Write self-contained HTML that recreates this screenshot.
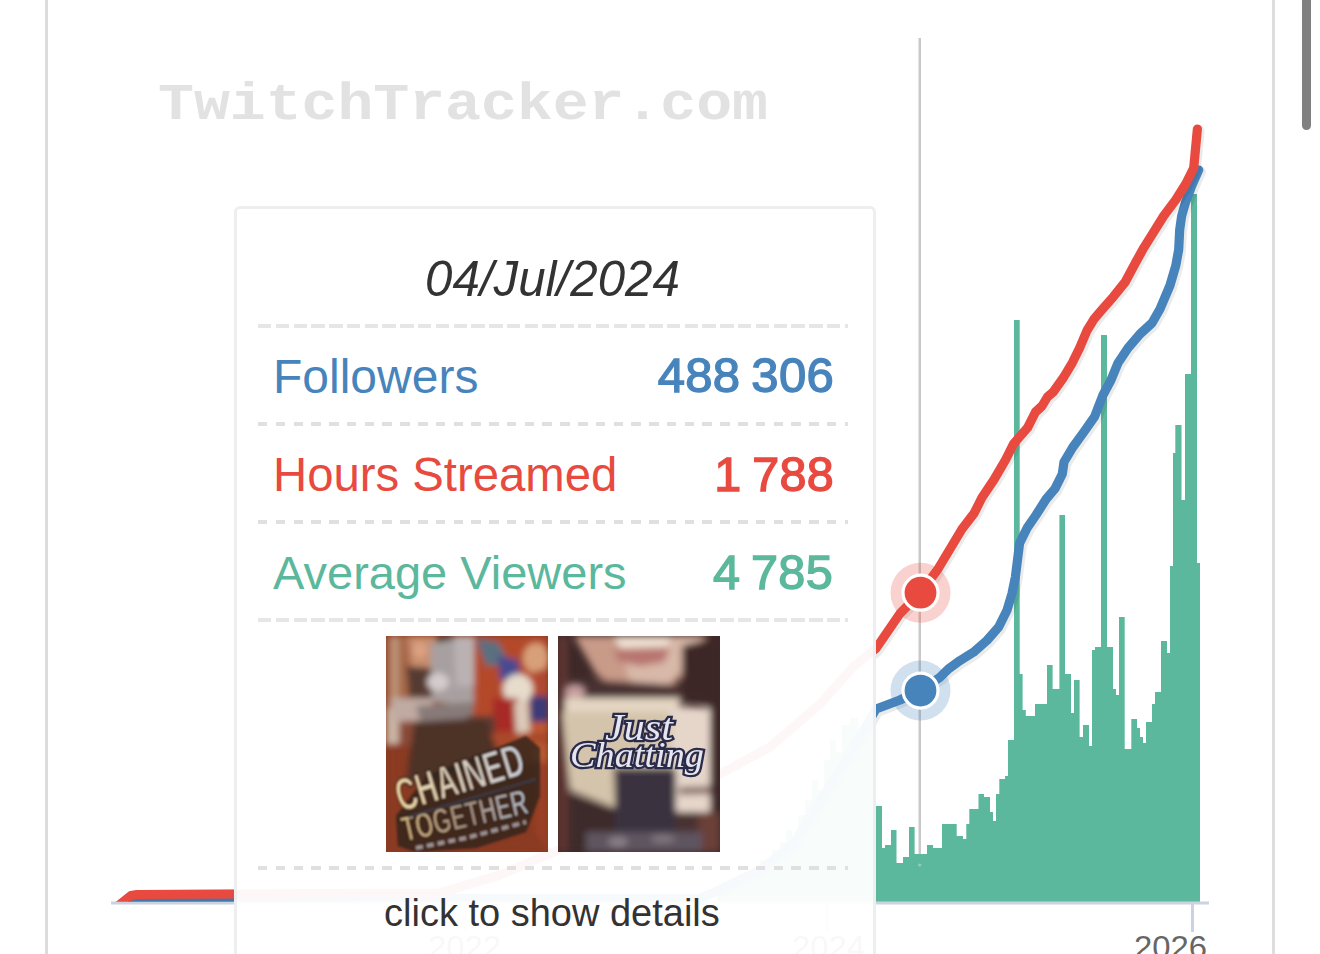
<!DOCTYPE html>
<html><head><meta charset="utf-8">
<style>
html,body{margin:0;padding:0;width:1320px;height:954px;overflow:hidden;background:#fff;}
body{position:relative;font-family:"Liberation Sans",sans-serif;}
.abs{position:absolute;}
#chart{position:absolute;left:0;top:0;}
#tip{position:absolute;left:234px;top:206px;width:636px;height:800px;border:3px solid #eceef0;border-radius:6px;background:rgba(255,255,255,0.955);}
.dash{position:absolute;left:258px;width:590px;height:3.5px;background:repeating-linear-gradient(90deg,#e0e0e0 0 9.5px,transparent 9.5px 17.78px);}
.dl{background:repeating-linear-gradient(90deg,#e6e6e6 0 13.4px,transparent 13.4px 17.78px);}
.t{position:absolute;white-space:nowrap;line-height:1;}
.img{position:absolute;top:636px;width:162px;height:216px;overflow:hidden;}
</style></head><body>
<svg id="chart" width="1320" height="954" viewBox="0 0 1320 954">
  <rect x="45" y="0" width="3" height="954" fill="#dcdcdc"/>
  <rect x="1272" y="0" width="3" height="954" fill="#dedede"/>
  <text transform="translate(158,119) scale(1,0.86)" x="0" y="0" font-family="Liberation Mono" font-weight="bold" font-size="60" fill="#e2e2e2" textLength="610" lengthAdjust="spacingAndGlyphs">TwitchTracker.com</text>
  <rect x="918.5" y="38" width="2.5" height="864" fill="#c9c9c9"/>
  <path d="M717,902 L717,891 L722,891 L722,886 L730,886 L730,880 L738,880 L738,884 L745,884 L745,872 L752,872 L752,868 L760,868 L760,860 L766,860 L766,864 L772,864 L772,850 L780,850 L780,842 L786,842 L786,830 L792,830 L792,838 L798,838 L798,815 L805,815 L805,800 L812,800 L812,780 L818,780 L818,790 L824,790 L824,760 L830,760 L830,740 L836,740 L836,752 L842,752 L842,725 L850,725 L850,718 L858,718 L858,730 L866,730 L866,715 L876,715 L876,902 Z" fill="#5bb89c"/>
  <path d="M876,902 L876,806 L882,806 L882,848 L885,848 L885,845 L891,845 L891,830 L896.5,830 L896.5,863 L903,863 L903,857 L909,857 L909,827 L914.6,827 L914.6,854 L927,854 L927,845 L933,845 L933,848 L942,848 L942,824 L956.7,824 L956.7,836 L963,836 L963,839 L966.3,839 L966.3,824 L969.3,824 L969.3,809 L978.5,809 L978.5,794 L984,794 L984,797 L990,797 L990,812 L993,812 L993,821 L996,821 L996,794 L999.3,794 L999.3,779 L1005,779 L1005,776 L1008,776 L1008,740 L1014,740 L1014,320 L1019.7,320 L1019.7,674 L1022.6,674 L1022.6,710 L1025.8,710 L1025.8,716 L1035,716 L1035,704 L1047,704 L1047,665 L1052.6,665 L1052.6,689 L1059.4,689 L1059.4,515 L1065,515 L1065,674 L1071,674 L1071,713 L1074,713 L1074,680 L1079.6,680 L1079.6,737 L1083,737 L1083,725 L1089,725 L1089,746 L1092,746 L1092,650 L1095,650 L1095,647 L1101,647 L1101,335 L1107,335 L1107,647 L1113,647 L1113,689 L1116,689 L1116,695 L1119,695 L1119,617 L1124.7,617 L1124.7,749 L1131.3,749 L1131.3,719 L1137,719 L1137,728 L1140,728 L1140,737 L1143,737 L1143,743 L1146,743 L1146,722 L1152,722 L1152,704 L1155,704 L1155,692 L1161,692 L1161,641 L1167,641 L1167,653 L1170,653 L1170,566 L1173,566 L1173,453 L1175.3,453 L1175.3,425 L1181.5,425 L1181.5,500 L1185,500 L1185,374 L1191,374 L1191,194 L1197,194 L1197,563 L1200,563 L1200,902 Z" fill="#5bb89c"/>
  <rect x="111" y="901.5" width="1098" height="3" fill="#ccd3e0"/>
  <rect x="1191" y="904" width="3" height="28" fill="#ccd3e0"/>
  <rect x="825.5" y="904" width="3" height="28" fill="#ccd3e0"/>
  <rect x="464" y="904" width="3" height="28" fill="#ccd3e0"/>
  <text x="1134" y="958" font-family="Liberation Sans" font-size="32" fill="#666" textLength="73" lengthAdjust="spacingAndGlyphs">2026</text>
  <text x="792" y="958" font-family="Liberation Sans" font-size="32" fill="#666" textLength="73" lengthAdjust="spacingAndGlyphs">2024</text>
  <text x="428" y="958" font-family="Liberation Sans" font-size="32" fill="#666" textLength="73" lengthAdjust="spacingAndGlyphs">2022</text>
  <defs><clipPath id="pc"><rect x="0" y="0" width="1320" height="901.7"/></clipPath></defs>
  <g fill="none" stroke-linecap="round" stroke-linejoin="round" clip-path="url(#pc)">
    <path d="M130,906 L140,899 L700,898 L717,891 L760,870 L794,843 L838,773 L860,737 L876,709 L900,700 L920.5,690 L940,677.3 L948.4,669 L960,660.6 L973.5,652.2 L987,640.4 L998.7,627 L1007,610.3 L1012,593.5 L1015.4,576.8 L1017.5,560 L1019.6,543.2 L1027.5,527.3 L1036,515 L1046.2,499 L1055,488.6 L1062.3,474 L1064,462 L1072.6,447.5 L1084.3,431.4 L1094.6,416.7 L1103,395 L1111,380 L1118,363 L1128,348 L1140,334 L1152,323 L1160,309 L1170,285.4 L1175.8,265.5 L1178.7,249.6 L1179.7,229.6 L1181.7,215.7 L1185.7,201.8 L1191.7,185.8 L1198.7,170" stroke="#000" stroke-opacity="0.08" stroke-width="11.5" transform="translate(1.5,2)"/>
    <path d="M130,906 L140,899 L700,898 L717,891 L760,870 L794,843 L838,773 L860,737 L876,709 L900,700 L920.5,690 L940,677.3 L948.4,669 L960,660.6 L973.5,652.2 L987,640.4 L998.7,627 L1007,610.3 L1012,593.5 L1015.4,576.8 L1017.5,560 L1019.6,543.2 L1027.5,527.3 L1036,515 L1046.2,499 L1055,488.6 L1062.3,474 L1064,462 L1072.6,447.5 L1084.3,431.4 L1094.6,416.7 L1103,395 L1111,380 L1118,363 L1128,348 L1140,334 L1152,323 L1160,309 L1170,285.4 L1175.8,265.5 L1178.7,249.6 L1179.7,229.6 L1181.7,215.7 L1185.7,201.8 L1191.7,185.8 L1198.7,170" stroke="#4884bc" stroke-width="9.2"/>
    <path d="M118,906 L131,895.5 L137,894.5 L440,893 L500,875 L549,854 L600,833 L650,810 L720,774 L770,747 L820,704 L854,666 L876,648.5 L900,613.5 L920.5,592.7 L938,569 L950,549 L962,529 L974,513.4 L982,497.5 L994,479.6 L1005.6,459.7 L1013.6,443.7 L1027.5,427.8 L1035.5,412 L1042,406 L1047.4,397 L1053.2,392 L1063.5,377.5 L1072.3,362.8 L1079.6,348 L1087,330.5 L1094.3,318.7 L1101.7,310 L1113.4,296.7 L1125.2,282 L1135.9,262 L1143.9,247.6 L1153.9,231.6 L1163.8,215.7 L1175.8,199.8 L1185.7,184 L1193.7,168 L1197.4,129" stroke="#000" stroke-opacity="0.08" stroke-width="11.5" transform="translate(1.5,2)"/>
    <path d="M118,906 L131,895.5 L137,894.5 L440,893 L500,875 L549,854 L600,833 L650,810 L720,774 L770,747 L820,704 L854,666 L876,648.5 L900,613.5 L920.5,592.7 L938,569 L950,549 L962,529 L974,513.4 L982,497.5 L994,479.6 L1005.6,459.7 L1013.6,443.7 L1027.5,427.8 L1035.5,412 L1042,406 L1047.4,397 L1053.2,392 L1063.5,377.5 L1072.3,362.8 L1079.6,348 L1087,330.5 L1094.3,318.7 L1101.7,310 L1113.4,296.7 L1125.2,282 L1135.9,262 L1143.9,247.6 L1153.9,231.6 L1163.8,215.7 L1175.8,199.8 L1185.7,184 L1193.7,168 L1197.4,129" stroke="#e84a40" stroke-width="9.2"/>
  </g>
  <circle cx="920.5" cy="592.7" r="30" fill="#e84a40" fill-opacity="0.25"/>
  <circle cx="920.5" cy="592.7" r="17.5" fill="#e84a40" stroke="#fff" stroke-width="3.2"/>
  <circle cx="920.5" cy="690.6" r="30" fill="#4884bc" fill-opacity="0.25"/>
  <circle cx="920.5" cy="690.6" r="17.5" fill="#4884bc" stroke="#fff" stroke-width="3.2"/>
  <circle cx="919.7" cy="865" r="1.6" fill="#8fd0bc"/>
  <rect x="1302" y="-10" width="9" height="140" rx="4.5" fill="#808080"/>
</svg>
<div id="tip"></div>
<div class="t" style="left:425px;top:254px;font-size:49.3px;font-style:italic;color:#333;">04/Jul/2024</div>
<div class="dash dl" style="top:324px"></div>
<div class="t" style="left:273px;top:353px;font-size:48px;color:#4884bc;">Followers</div>
<div class="t" style="right:486px;top:351px;font-size:49px;color:#4884bc;-webkit-text-stroke:1.4px #4884bc;letter-spacing:0.3px;word-spacing:-3px;">488 306</div>
<div class="dash" style="top:422px"></div>
<div class="t" style="left:273px;top:451px;font-size:47.3px;color:#e84a40;">Hours Streamed</div>
<div class="t" style="right:486px;top:450px;font-size:48.5px;color:#e84a40;-webkit-text-stroke:1.4px #e84a40;letter-spacing:0.3px;word-spacing:-3px;">1 788</div>
<div class="dash" style="top:520px"></div>
<div class="t" style="left:273px;top:549px;font-size:47px;color:#5bb89c;">Average Viewers</div>
<div class="t" style="right:487px;top:548px;font-size:48.6px;color:#5bb89c;-webkit-text-stroke:1.4px #5bb89c;letter-spacing:0.3px;word-spacing:-3px;">4 785</div>
<div class="dash dl" style="top:618px"></div>
<div class="img" style="left:386px"><svg width="162" height="216" viewBox="0 0 162 216">
<defs>
<filter id="b1" x="-20%" y="-20%" width="140%" height="140%"><feGaussianBlur stdDeviation="3"/></filter>
<filter id="b2" x="-10%" y="-10%" width="120%" height="120%"><feGaussianBlur stdDeviation="0.8"/></filter>
<linearGradient id="gold" x1="0" y1="0" x2="1" y2="0">
<stop offset="0" stop-color="#ecd4a0"/><stop offset="0.45" stop-color="#dccdb8"/><stop offset="1" stop-color="#c8ccd4"/></linearGradient>
<linearGradient id="gold2" x1="0" y1="0" x2="1" y2="0">
<stop offset="0" stop-color="#d8b880"/><stop offset="0.5" stop-color="#a89080"/><stop offset="1" stop-color="#b8bcc8"/></linearGradient>
</defs>
<rect width="162" height="216" fill="#8a3a22"/>
<g filter="url(#b1)">
<rect x="85" y="0" width="77" height="110" fill="#b44a2a"/>
<rect x="0" y="0" width="22" height="75" fill="#a86a4c"/>
<rect x="6" y="0" width="6" height="75" fill="#c09a80"/>
<rect x="0" y="72" width="13" height="40" fill="#cab4a4"/>
<rect x="13" y="85" width="20" height="25" fill="#8a4a38"/>
<path d="M22,0 L50,0 L52,35 L40,42 L24,35 Z" fill="#c88e6e"/>
<ellipse cx="34" cy="14" rx="7" ry="8" fill="#dca282"/>
<path d="M50,0 L70,0 L66,20 L52,22 Z" fill="#4a3a30"/>
<path d="M20,30 L46,32 L48,66 L24,68 Z" fill="#563a30"/>
<path d="M44,8 L86,0 L88,70 L46,66 Z" fill="#a8a0a0"/>
<path d="M68,0 L88,0 L88,50 L70,50 Z" fill="#bab2b2"/>
<ellipse cx="52" cy="46" rx="11" ry="9" fill="#d4cccc"/>
<path d="M4,62 L46,62 L50,84 L8,86 Z" fill="#c0aaa2"/>
<path d="M30,70 L88,66 L84,100 L40,104 Z" fill="#887a78"/>
<path d="M45,85 L85,82 L88,110 L50,110 Z" fill="#5a4a48"/>
<path d="M90,2 L112,6 L124,28 L100,30 Z" fill="#5a7080"/>
<path d="M112,20 L132,24 L134,44 L114,44 Z" fill="#4a4890"/>
<ellipse cx="150" cy="22" rx="13" ry="15" fill="#d8a078"/>
<rect x="150" y="34" width="12" height="30" fill="#b04a30"/>
<ellipse cx="132" cy="53" rx="15" ry="15" fill="#e6dccc"/>
<path d="M106,62 L132,62 L136,96 L108,96 Z" fill="#a82a28"/>
<path d="M128,66 L142,64 L144,96 L130,98 Z" fill="#dccab8"/>
<rect x="144" y="60" width="18" height="26" fill="#3a3a78"/>
<rect x="144" y="86" width="18" height="24" fill="#c05830"/>
<rect x="81" y="80" width="28" height="30" fill="#5a3a30"/>
<path d="M28,86 L100,84 L112,118 L60,140 L20,150 Z" fill="#4e3228"/>
<path d="M104,98 L162,96 L162,126 L120,128 Z" fill="#a8482a"/>
<rect x="147" y="108" width="15" height="18" fill="#b85a30"/>
<rect x="149" y="126" width="13" height="90" fill="#9a4028"/>
<path d="M0,108 L15,108 L15,216 L0,216 Z" fill="#8a3a22"/>
<path d="M98,206 L150,196 L162,216 L98,216 Z" fill="#8a3a22"/>
</g>
<g filter="url(#b2)">
<path d="M10,180 L40,140 L140,100 L154,112 L154,160 L140,196 L90,212 L30,216 L12,210 Z" fill="#2a201a" opacity="0.75"/>
<g transform="translate(15,176) rotate(-17)"><text x="0" y="0" font-family="Liberation Sans" font-weight="bold" font-size="46" fill="url(#gold)" stroke="#241c18" stroke-width="1.4" textLength="132" lengthAdjust="spacingAndGlyphs">CHAINED</text></g>
<g transform="translate(19,206) rotate(-13)"><text x="0" y="0" font-family="Liberation Sans" font-weight="bold" font-size="36" fill="url(#gold2)" stroke="#241c18" stroke-width="1.4" textLength="128" lengthAdjust="spacingAndGlyphs">TOGETHER</text></g>
<path d="M30,212 L80,202 L140,186" stroke="#9a9498" stroke-width="4" stroke-dasharray="7 4" fill="none"/>
<path d="M22,181 L150,143" stroke="#3a4050" stroke-width="2.5" fill="none" opacity="0.8"/>
</g>
</svg>
</div>
<div class="img" style="left:558px"><svg width="162" height="216" viewBox="0 0 162 216">
<defs>
<filter id="c1" x="-20%" y="-20%" width="140%" height="140%"><feGaussianBlur stdDeviation="3.6"/></filter>
<filter id="c2" x="-10%" y="-10%" width="120%" height="120%"><feGaussianBlur stdDeviation="0.6"/></filter>
</defs>
<rect width="162" height="216" fill="#3e2828"/>
<g filter="url(#c1)">
<rect x="0" y="0" width="10" height="216" fill="#5e3430"/>
<path d="M16,0 L148,0 L140,24 L114,50 L98,58 L64,58 L38,38 Z" fill="#c89a88"/>
<path d="M60,0 L144,0 L132,26 L106,52 L80,56 L70,40 Z" fill="#d8b8a8"/>
<path d="M56,0 L112,0 L110,10 L62,12 Z" fill="#f0e2d4"/>
<path d="M56,13 L112,12 L106,26 L82,30 L60,25 Z" fill="#b87470"/>
<path d="M10,42 L132,50 L130,68 L10,66 Z" fill="#4a3232"/>
<ellipse cx="17" cy="56" rx="10" ry="7" fill="#c8a0a0"/>
<path d="M7,62 L122,62 L120,78 L7,78 Z" fill="#e4d6c2"/>
<path d="M4,76 L120,76 L120,132 L56,132 L57,172 L12,155 Z" fill="#d4c4ac"/>
<path d="M112,70 L152,72 L158,108 L162,176 L118,178 Z" fill="#e6d6ca"/>
<path d="M121,151 L156,150 L156,158 L121,159 Z" fill="#8a7068"/>
<path d="M124,10 L162,0 L162,216 L152,216 L152,70 L124,60 Z" fill="#3e2628"/>
<path d="M11,158 L57,172 L57,216 L11,216 Z" fill="#3e2a2a"/>
<path d="M118,176 L162,176 L162,216 L118,216 Z" fill="#6a4038"/>
<rect x="118" y="176" width="22" height="24" fill="#4a3030"/>
<rect x="57" y="132" width="61" height="70" rx="5" fill="#3a3040"/>
<path d="M28,196 L144,196 L144,216 L28,216 Z" fill="#5e5460"/>
<ellipse cx="60" cy="206" rx="10" ry="5" fill="#8a8088"/>
<ellipse cx="105" cy="203" rx="12" ry="4" fill="#807880"/>
</g>
<g filter="url(#c2)">
<text x="47" y="104" font-family="Liberation Serif" font-style="italic" font-size="38" fill="#e6e6f0" stroke="#2a2a4a" stroke-width="4.5" paint-order="stroke" textLength="68" lengthAdjust="spacingAndGlyphs">Just</text>
<text x="12" y="131" font-family="Liberation Serif" font-style="italic" font-size="36" fill="#e6e6f0" stroke="#2a2a4a" stroke-width="4.5" paint-order="stroke" textLength="134" lengthAdjust="spacingAndGlyphs">Chatting</text>
</g>
</svg>
</div>
<div class="dash" style="top:866px"></div>
<div class="t" style="left:384px;top:894px;font-size:38px;color:#333;">click to show details</div>
</body></html>
